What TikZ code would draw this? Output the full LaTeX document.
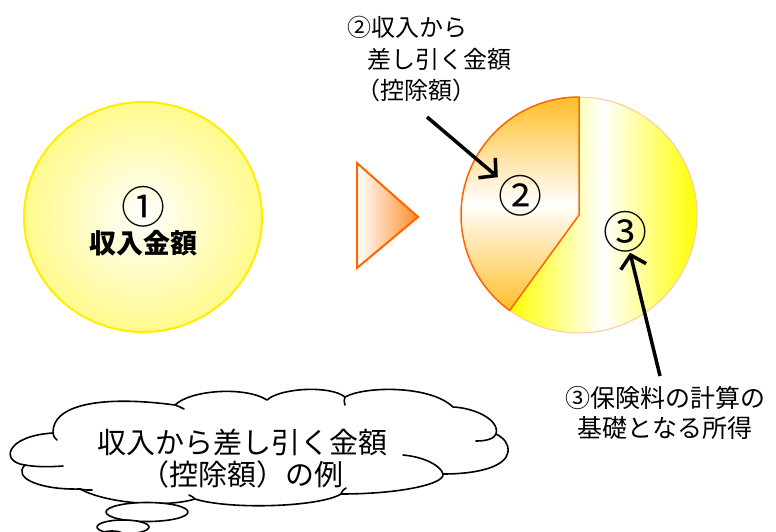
\documentclass[tikz,border=0pt]{standalone}
\usepackage{fontspec}
\setmainfont{Noto Sans CJK JP}
\usetikzlibrary{arrows.meta,shapes.geometric}
\definecolor{circedge}{RGB}{255,238,0}
\definecolor{circfill}{RGB}{255,250,140}
\definecolor{tristroke}{RGB}{255,102,0}
\definecolor{trifill}{RGB}{255,140,40}
\definecolor{slicetwo}{RGB}{255,190,40}
\definecolor{sliceedge}{RGB}{255,100,0}
\definecolor{slicethree}{RGB}{255,255,0}
\definecolor{threeedge}{RGB}{255,200,160}
\begin{document}
\begin{tikzpicture}[x=1pt,y=-1pt,
  lbl/.style={inner sep=0pt, font=\fontsize{24}{28}\selectfont},
  rlbl/.style={inner sep=0pt, font=\fontsize{25}{28}\selectfont},
  bignum/.style={inner sep=0pt, font=\fontsize{44}{46}\selectfont},
  ptr/.style={line width=3.5pt, -{Straight Barb[length=12pt,width=26pt]}},
  cloudline/.style={line width=1.6pt, line join=round, line cap=round}]
\useasboundingbox (0,0) rectangle (776,532);
\clip (0,0) rectangle (776,532);

% left circle
\node[ellipse, draw=circedge, line width=2pt, inner color=white, outer color=circfill,
      minimum width=238pt, minimum height=230pt] (inc) at (143,217) {};
\node[bignum] (n1) at (143,207) {①};
\node[inner sep=0pt, font=\bfseries\fontsize{27}{30}\selectfont] (t1) at (143,243) {収入金額};

% triangle
\draw[draw=tristroke, line width=2pt, left color=white, right color=trifill, line join=miter]
  (357,163) -- (418,217) -- (357,268) -- cycle;

% pie
\coordinate (O) at (579,215);
\draw[draw=threeedge, line width=1pt, left color=slicethree, right color=slicethree, middle color=white]
  (O) -- ++(270:118) arc[start angle=270, end angle=486, radius=118] -- cycle;
\draw[draw=sliceedge, line width=1.5pt, top color=slicetwo, bottom color=slicetwo, middle color=white, line join=round]
  (O) -- ++(126:118) arc[start angle=126, end angle=270, radius=118] -- cycle;
\node[bignum] (n2) at (520,196) {②};
\node[bignum] (n3) at (625,232) {③};

% top label
\node[lbl, anchor=west] (l1) at (347,27) {②収入から};
\node[lbl, anchor=west] (l2) at (367,59) {差し引く金額};
\node[lbl, anchor=west] (l3) at (356,90) {（控除額）};

% bottom-right label
\node[rlbl] (r1) at (665,398) {③保険料の計算の};
\node[rlbl] (r2) at (665,428) {基礎となる所得};

% arrows
\coordinate (a1s) at (427,117);
\coordinate (a2s) at (660,376);
\draw[ptr] (a1s) -- (n2);
\draw[ptr] (a2s) -- (n3);

% cloud
\draw[cloudline] (53,433)
 .. controls (52,405) and (100,395) .. (175,405)
 .. controls (190,390) and (245,386) .. (267,400)
 .. controls (280,388) and (330,385) .. (345,397)
 .. controls (365,386) and (430,385) .. (453,407)
 .. controls (475,408) and (500,420) .. (496,434)
 .. controls (504,438) and (509,444) .. (508,452)
 .. controls (506,466) and (480,474) .. (443,474)
 .. controls (445,484) and (400,494) .. (341,494)
 .. controls (320,507) and (230,510) .. (195,499)
 .. controls (170,507) and (110,505) .. (80,489)
 .. controls (40,490) and (12,478) .. (25,465)
 .. controls (0,462) and (5,436) .. (53,433) -- cycle;
% cloud inner strokes
\draw[cloudline] (25,465) .. controls (35,467) and (50,467) .. (63,466);
\draw[cloudline] (53,433) .. controls (54,437) .. (57,440);
\draw[cloudline] (175,405) .. controls (178,406) .. (184,409);
\draw[cloudline] (345,397) .. controls (344,401) .. (345,405);
\draw[cloudline] (496,434) .. controls (494,439) and (486,441) .. (476,441);
\draw[cloudline] (443,474) .. controls (441,466) and (425,457) .. (403,455);
\draw[cloudline] (341,494) .. controls (342,491) .. (346,488);
\draw[cloudline] (195,499) .. controls (193,497) .. (189,495);
\draw[cloudline] (80,489) .. controls (85,490) .. (92,490);
\node[inner sep=0pt, align=center, font=\fontsize{29}{32}\selectfont] (ct) at (242,459)
  {収入から差し引く金額\\（控除額）の例};

% thought bubbles
\draw[cloudline, fill=white] (147,512) ellipse [x radius=41, y radius=9.5];
\draw[cloudline, fill=white] (123,527) ellipse [x radius=26, y radius=7];
\draw[cloudline, fill=white] (112,538) ellipse [x radius=15, y radius=7];
\end{tikzpicture}
\end{document}
